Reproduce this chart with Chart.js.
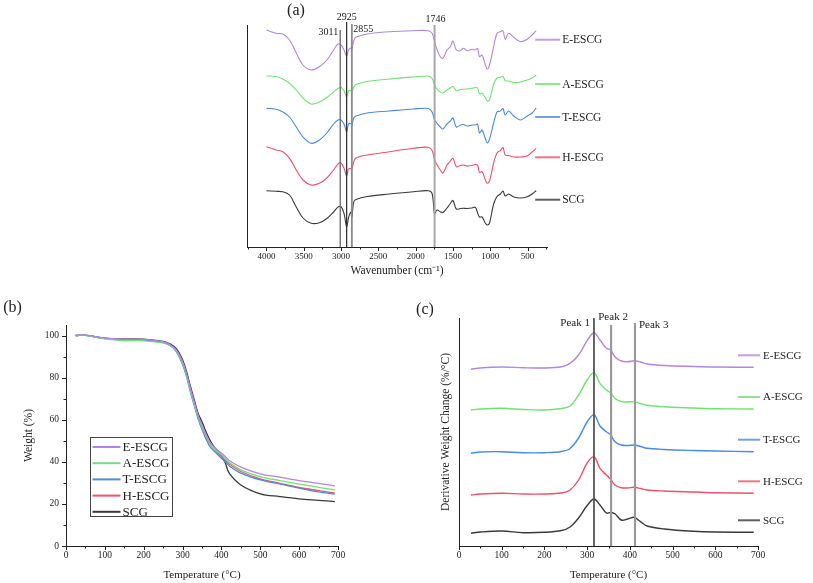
<!DOCTYPE html>
<html><head><meta charset="utf-8">
<script src="https://cdn.jsdelivr.net/npm/chart.js@4.4.1/dist/chart.umd.min.js"></script>
<style>
html,body{margin:0;padding:0;background:#fff;}
body{width:813px;height:583px;position:relative;overflow:hidden;}
canvas{position:absolute;}
#ca{left:0;top:0;}
#cb{left:0;top:290px;}
#cc{left:410px;top:290px;}
</style></head><body>
<canvas id="ca" width="813" height="290"></canvas>
<canvas id="cb" width="410" height="293"></canvas>
<canvas id="cc" width="403" height="293"></canvas>
<script>
// ---------- data ----------
const seriesNames = ['E-ESCG','A-ESCG','T-ESCG','H-ESCG','SCG'];
const seriesColors = ['#b584e4','#72e172','#4a8ae0','#f0506c','#3a3a3a'];

// (a) FTIR spectra (offset, arbitrary units)
const ftirWavenumbers = [4000,3870,3780,3690,3600,3510,3400,3290,3190,3100,3040,3000,2960,2925,2900,2870,2855,2830,2800,2650,2350,2030,1830,1780,1746,1715,1670,1635,1580,1535,1500,1455,1400,1360,1310,1245,1200,1170,1145,1110,1065,1040,1010,955,910,865,830,800,755,685,595,505,440,385];
const ftirE = [217,213.7,213,207,194,182,177,180.3,187,197,203,202,197,191,197,199,198,206.3,209.7,213,215.3,216.3,216.3,213.7,205.3,197.7,190.3,188.7,197,200.3,206,197,196.3,198.7,196.3,197.7,197,198.7,190.3,192,182,178,182,200.3,213.7,215.3,216.3,207.7,213.7,209.7,205.3,207.7,212,216.3];
const ftirA = [171,170.5,168,163.7,157,149,143,145,149.5,155,158.5,159.7,156.3,150.3,156,156.5,155.3,160,162.5,165.5,168,170,171,168.5,162,158,155,154,157,159,160.5,156.3,157.5,157.7,158,158.7,159.5,159,153,154,149,146,147,163,169,169.7,170.5,166.3,166,164.5,165,167,169,172];
const ftirT = [138.7,137.7,135,130,120,110,103.7,107,114,123,127,127,123,115,123,123.5,122,129,131,134,136,138,138.5,135,127,124,120,118,123,126,129,120,122,122.5,121,122,122,123,114,117,108,104,108,124,135,136,138.5,132,136,131,127,131,134,139];
const ftirH = [100.3,97,95.3,88.7,77,67,62,63.7,69,77,83,84,78.7,71,78,78.5,77.7,85,89,92,95.3,98.7,99.7,96.5,87,82.5,77,74,82,86,88.7,80.3,81.5,82,81,81.5,82.5,82,74.5,75.3,67,63.7,66,84,94,96.3,99.5,92,91.5,90,90,91,95,98.7];
const ftirSCG = [56.3,55.7,55.3,52,40,29,23.7,24.3,28.5,35,40,40.3,33.7,20.3,29,35,29.7,45,47.5,50.5,53,55.3,56.3,53.5,33,37,35.3,34.5,39,43.5,46.5,38,38.5,38.7,38.5,39,39.7,34,30,30,23.7,22,24,43,50.5,53,56,51,53,50,49,50.3,53,56.3];
const ftirTicks = [4000,3500,3000,2500,2000,1500,1000,500];
const ftirMinorTicks = [4250,3750,3250,2750,2250,1750,1250,750,250];
const ftirBands = [3011,2925,2855,1746];

// (b) TGA weight (%)
const tgaTemps = [25,50,100,150,200,250,270,285,300,310,320,330,340,350,360,370,380,400,410,420,450,500,550,600,650,692];
const tgaE = [100,100.2,98.8,98.3,98.2,97,95.4,92.8,87.5,82,75,68.5,62,57,53,49.2,47.3,44.1,42.5,40.6,37.5,34.3,32.7,31.1,29.8,28.6];
const tgaA = [100,100.1,98.4,97.6,97.5,96.5,95,92.3,86.8,81.2,74,67.5,61.2,56.3,52.4,48.5,46.3,43.3,41.6,39.7,36.2,33,31.1,29.4,27.9,26.7];
const tgaT = [100,100.1,98.5,98,97.8,96.6,95,92,86.2,80.5,73.3,66.8,60.3,55.3,51,47.3,45.4,41.7,40,38.1,34.6,31.4,29.5,27.5,25.7,24.6];
const tgaH = [100,100.1,98.6,98.1,97.9,96.8,95.2,92.5,87,81.4,74.3,67.8,61.4,56.4,52.3,48.3,46.2,42.5,40.8,39,35.4,31.9,29.8,27.8,26.3,25.1];
const tgaSCG = [100,100.2,98.8,98.4,98.3,97.2,95.8,93.5,88.5,83,76,69.5,63,59,54.4,50.5,47.5,42.8,39.4,34.6,29,24.8,23.5,22.4,21.7,21.1];
const tempTicks = [0,100,200,300,400,500,600,700];
const tempMinorTicks = [50,150,250,350,450,550,650];
const weightTicks = [0,20,40,60,80,100];
const weightMinorTicks = [10,30,50,70,90];

// (c) DTG (offset, arbitrary units)
const dtgTemps = [28,50,100,150,200,240,260,280,300,316,330,345,355,365,380,395,410,425,440,480,550,600,690];
const dtgE = [176.7,178,179,178.3,178,179.3,182.7,191,205.3,213.3,206,197.7,196,189.3,185,184.3,185.3,184,182,180.5,179.5,179,178.7];
const dtgA = [136,137,137.7,136.5,136,137.5,140,151,166,173.3,162.7,156,153.3,147.7,144.3,144,144.3,142.5,140.7,139.2,138,137.3,137];
const dtgT = [92.7,94,94.3,93.3,93.3,94.5,97.5,108,124,131.3,120,114.3,111,104.3,101,100.5,101,99.5,97.7,96.5,95.5,95,94.3];
const dtgH = [51,52,52.7,52,52,53,56,66,83,89.3,77.7,71,66.7,61,58.3,58,58.7,57.5,56,55,54,53.3,52.7];
const dtgSCG = [12.7,14,15,13.3,13.7,15.5,19,28,40.5,47,41,33,33.5,32.3,26,27,28.7,24.3,20,17,14.7,14,13.7];
const peakTemps = [316,356,412];
const peakNames = ['Peak 1','Peak 2','Peak 3'];

// ---------- helpers ----------
const FONT = "'Liberation Serif','Times New Roman',serif";
Chart.defaults.font.family = FONT;
Chart.defaults.color = '#222';
const INK = '#222';

function mkDatasets(xs, arrs, width) {
  return arrs.map((ys, i) => ({
    label: seriesNames[i],
    data: xs.map((x, j) => ({x: x, y: ys[j]})),
    borderColor: seriesColors[i],
    borderWidth: width,
    pointRadius: 0,
    tension: 0.35,
    fill: false
  }));
}
const noGrid = {display: false, drawTicks: false};
const border = {display: true, color: INK, width: 1};
const setTicks = arr => s => { s.ticks = arr.map(v => ({value: v})); };

const decor = {
  id: 'decor',
  afterDatasetsDraw(chart, args, o) {
    const ctx = chart.ctx, ca = chart.chartArea;
    ctx.save();
    // tick marks
    (o.tickMarks || []).forEach(t => {
      const s = chart.scales[t.axis];
      ctx.strokeStyle = INK; ctx.lineWidth = 1;
      const draw = (vals, len) => vals.forEach(v => {
        const p = Math.round(s.getPixelForValue(v)) + 0.5;
        ctx.beginPath();
        if (s.isHorizontal()) { ctx.moveTo(p, s.top); ctx.lineTo(p, s.top + len); }
        else { ctx.moveTo(s.right, p); ctx.lineTo(s.right - len, p); }
        ctx.stroke();
      });
      draw(t.major, t.majorLen); draw(t.minor, t.minorLen);
    });
    // reference lines
    const xs = chart.scales.x;
    (o.refLines || []).forEach(r => {
      const p = xs.getPixelForValue(r.value);
      ctx.strokeStyle = r.color; ctx.lineWidth = r.width;
      ctx.beginPath(); ctx.moveTo(p, ca.top + r.top); ctx.lineTo(p, ca.bottom); ctx.stroke();
    });
    (o.refLabels || []).forEach(r => {
      const p = xs.getPixelForValue(r.value);
      ctx.fillStyle = INK; ctx.font = r.size + 'px ' + FONT;
      ctx.textAlign = r.align; ctx.textBaseline = 'middle';
      ctx.fillText(r.text, p + r.dx, ca.top + r.dy);
    });
    // end labels
    if (o.endLabels) {
      const e = o.endLabels;
      chart.data.datasets.forEach((ds, i) => {
        const meta = chart.getDatasetMeta(i);
        const last = meta.data[meta.data.length - 1];
        const x0 = e.fromRight ? ca.right + e.dx : last.x + e.dx;
        const y = last.y + e.dy;
        ctx.strokeStyle = ds.borderColor; ctx.lineWidth = 2; ctx.globalAlpha = 0.8;
        ctx.beginPath(); ctx.moveTo(x0, y); ctx.lineTo(x0 + e.len, y); ctx.stroke();
        ctx.globalAlpha = 1;
        ctx.fillStyle = INK; ctx.font = e.size + 'px ' + FONT;
        ctx.textAlign = 'left'; ctx.textBaseline = 'middle';
        ctx.fillText(ds.label, x0 + e.len + e.gap, y + 0.5);
      });
    }
    // legend box
    if (o.legendBox) {
      const b = o.legendBox;
      const x0 = Math.round(ca.left + b.dx) + 0.5, y0 = Math.round(ca.top + b.dy) + 0.5;
      ctx.strokeStyle = '#444'; ctx.lineWidth = 1;
      ctx.strokeRect(x0, y0, b.w, b.h);
      chart.data.datasets.forEach((ds, i) => {
        const y = y0 + b.rowStart + i * b.rowStep;
        ctx.strokeStyle = ds.borderColor; ctx.lineWidth = 2;
        ctx.beginPath(); ctx.moveTo(x0 + 2, y); ctx.lineTo(x0 + 2 + b.lineLen, y); ctx.stroke();
        ctx.fillStyle = INK; ctx.font = b.size + 'px ' + FONT;
        ctx.textAlign = 'left'; ctx.textBaseline = 'middle';
        ctx.fillText(ds.label, x0 + b.textX, y + 0.5);
      });
    }
    // panel letter
    if (o.letter) {
      ctx.fillStyle = INK; ctx.font = o.letter.size + 'px ' + FONT;
      ctx.textAlign = 'center'; ctx.textBaseline = 'middle';
      ctx.fillText(o.letter.text, o.letter.x, o.letter.y);
    }
    ctx.restore();
  }
};

const baseOpts = {
  responsive: false, animation: false,
  layout: {autoPadding: false}
};

// ---------- (a) FTIR ----------
new Chart(document.getElementById('ca'), {
  type: 'line',
  data: {datasets: mkDatasets(ftirWavenumbers, [ftirE, ftirA, ftirT, ftirH, ftirSCG], 1.1)},
  options: Object.assign({}, baseOpts, {
    layout: {autoPadding: false, padding: {left: 247, right: 266, top: 25, bottom: 0}},
    scales: {
      x: {type: 'linear', reverse: true, min: 240, max: 4260,
        grid: noGrid, border: border,
        afterBuildTicks: setTicks(ftirTicks),
        afterFit: s => { s.height = 43; },
        ticks: {font: {size: 9}, color: INK, padding: 4.5, maxRotation: 0, autoSkip: false, callback: v => String(v)},
        title: {display: true, text: 'Wavenumber (cm\u207B\u00B9)', color: INK, font: {size: 11.5}, padding: {top: 0, bottom: 11.8}}
      },
      y: {min: 0, max: 222, grid: noGrid, border: border, ticks: {display: false},
        afterFit: s => { s.width = 0; }}
    },
    plugins: {
      legend: {display: false}, tooltip: {enabled: false},
      decor: {
        tickMarks: [{axis: 'x', major: ftirTicks, minor: ftirMinorTicks, majorLen: 4, minorLen: 2.5}],
        refLines: [
          {value: ftirBands[0], color: '#666', width: 1.3, top: 5},
          {value: ftirBands[1], color: '#333', width: 1.3, top: -3},
          {value: ftirBands[2], color: '#8a8a8a', width: 1.8, top: -1},
          {value: ftirBands[3], color: '#a8a8a8', width: 2, top: 0}
        ],
        refLabels: [
          {text: String(ftirBands[0]), value: ftirBands[0], dx: -2, dy: 7, align: 'right', size: 10},
          {text: String(ftirBands[1]), value: ftirBands[1], dx: 0, dy: -8, align: 'center', size: 10},
          {text: String(ftirBands[2]), value: ftirBands[2], dx: 1.5, dy: 4, align: 'left', size: 10},
          {text: String(ftirBands[3]), value: ftirBands[3], dx: 1, dy: -6, align: 'center', size: 10}
        ],
        endLabels: {fromRight: false, dx: -1, len: 25, dy: 9, gap: 2, size: 11.5},
        letter: {text: '(a)', x: 296, y: 11, size: 16}
      }
    }
  }),
  plugins: [decor]
});

// ---------- (b) TGA ----------
new Chart(document.getElementById('cb'), {
  type: 'line',
  data: {datasets: mkDatasets(tgaTemps, [tgaE, tgaA, tgaT, tgaH, tgaSCG], 1.3)},
  options: Object.assign({}, baseOpts, {
    layout: {autoPadding: false, padding: {left: 0, right: 72, top: 35, bottom: 0}},
    scales: {
      x: {type: 'linear', min: 0, max: 700, grid: noGrid, border: border,
        afterBuildTicks: setTicks(tempTicks),
        afterFit: s => { s.height = 37; },
        ticks: {font: {size: 9.5}, color: INK, padding: 3.5, maxRotation: 0, autoSkip: false, callback: v => String(v)},
        title: {display: true, text: 'Temperature (\u00B0C)', color: INK, font: {size: 11}, padding: {top: 0, bottom: 1.4}}
      },
      y: {min: 0, max: 105, grid: noGrid, border: border,
        afterBuildTicks: setTicks(weightTicks),
        afterFit: s => { s.width = 66; },
        ticks: {font: {size: 9.5}, color: INK, padding: 7, autoSkip: false, callback: v => String(v)},
        title: {display: true, text: 'Weight (%)', color: INK, font: {size: 11.5}, padding: {top: 22.1, bottom: 0}}
      }
    },
    plugins: {
      legend: {display: false}, tooltip: {enabled: false},
      decor: {
        tickMarks: [
          {axis: 'x', major: tempTicks, minor: tempMinorTicks, majorLen: 4, minorLen: 2.5},
          {axis: 'y', major: weightTicks, minor: weightMinorTicks, majorLen: 4, minorLen: 2.5}
        ],
        legendBox: {dx: 24, dy: 112, w: 82, h: 79, rowStart: 9.5, rowStep: 16.2, lineLen: 28, textX: 32, size: 13},
        letter: {text: '(b)', x: 12.5, y: 18, size: 16}
      }
    }
  }),
  plugins: [decor]
});

// ---------- (c) DTG ----------
new Chart(document.getElementById('cc'), {
  type: 'line',
  data: {datasets: mkDatasets(dtgTemps, [dtgE, dtgA, dtgT, dtgH, dtgSCG], 1.4)},
  options: Object.assign({}, baseOpts, {
    layout: {autoPadding: false, padding: {left: 0, right: 55, top: 28, bottom: 0}},
    scales: {
      x: {type: 'linear', min: 0, max: 700, grid: noGrid, border: border,
        afterBuildTicks: setTicks(tempTicks),
        afterFit: s => { s.height = 37; },
        ticks: {font: {size: 9.5}, color: INK, padding: 3.5, maxRotation: 0, autoSkip: false, callback: v => String(v)},
        title: {display: true, text: 'Temperature (\u00B0C)', color: INK, font: {size: 11}, padding: {top: 0, bottom: 1.4}}
      },
      y: {min: 0, max: 228, grid: noGrid, border: border, ticks: {display: false},
        afterFit: s => { s.width = 49; },
        title: {display: true, text: 'Derivative Weight Change (%/\u00B0C)', color: INK, font: {size: 11.5}, padding: {top: 29.1, bottom: 0}}
      }
    },
    plugins: {
      legend: {display: false}, tooltip: {enabled: false},
      decor: {
        tickMarks: [{axis: 'x', major: tempTicks, minor: tempMinorTicks, majorLen: 4, minorLen: 2.5}],
        refLines: [
          {value: peakTemps[0], color: '#555', width: 1.8, top: 0},
          {value: peakTemps[1], color: '#9a9a9a', width: 2.2, top: 7},
          {value: peakTemps[2], color: '#9a9a9a', width: 2.2, top: 5}
        ],
        refLabels: [
          {text: peakNames[0], value: peakTemps[0], dx: -4, dy: 5, align: 'right', size: 11},
          {text: peakNames[1], value: peakTemps[1], dx: 2, dy: -1, align: 'center', size: 11},
          {text: peakNames[2], value: peakTemps[2], dx: 4, dy: 7, align: 'left', size: 11}
        ],
        endLabels: {fromRight: true, dx: -20, len: 22, dy: -12, gap: 3, size: 11},
        letter: {text: '(c)', x: 15, y: 20, size: 16}
      }
    }
  }),
  plugins: [decor]
});
</script>
</body></html>
